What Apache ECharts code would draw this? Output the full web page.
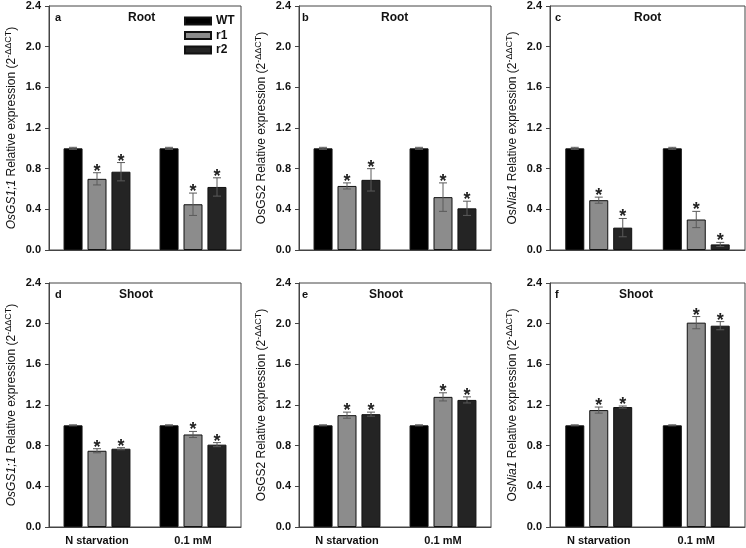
<!DOCTYPE html>
<html>
<head>
<meta charset="utf-8">
<script src="https://cdn.jsdelivr.net/npm/echarts@6/dist/echarts.min.js"></script>
<style>
  html, body { margin: 0; padding: 0; background: #fff; }
  #chart { width: 746px; height: 548px; }
</style>
</head>
<body>
<div id="chart"></div>
<script>
// 处理条件与基因型
const groups = ['N starvation', '0.1 mM']
const genotypes = ['WT', 'r1', 'r2']
const yTicks = [0, 0.4, 0.8, 1.2, 1.6, 2.0, 2.4]

// 每个面板: 均值 [WT, r1, r2] x [N starvation, 0.1 mM]，误差同理
const rootGS11 = [[1.00, 1.00], [0.70, 0.45], [0.77, 0.62]]
const rootGS11Err = [[0.01, 0.01], [0.06, 0.11], [0.09, 0.09]]
const rootGS2 = [[1.00, 1.00], [0.63, 0.52], [0.69, 0.41]]
const rootGS2Err = [[0.01, 0.01], [0.03, 0.14], [0.11, 0.07]]
const rootNia1 = [[1.00, 1.00], [0.49, 0.30], [0.22, 0.055]]
const rootNia1Err = [[0.01, 0.01], [0.03, 0.08], [0.09, 0.02]]
const shootGS11 = [[1.00, 1.00], [0.75, 0.91], [0.77, 0.81]]
const shootGS11Err = [[0.005, 0.005], [0.02, 0.03], [0.01, 0.02]]
const shootGS2 = [[1.00, 1.00], [1.10, 1.28], [1.11, 1.25]]
const shootGS2Err = [[0.005, 0.005], [0.03, 0.04], [0.02, 0.03]]
const shootNia1 = [[1.00, 1.00], [1.15, 2.01], [1.18, 1.98]]
const shootNia1Err = [[0.005, 0.005], [0.03, 0.06], [0.01, 0.04]]

const panels = [
  { letter: 'a', tissue: 'Root', mean: rootGS11, err: rootGS11Err, gene: '{i|OsGS1;1}' },
  { letter: 'b', tissue: 'Root', mean: rootGS2, err: rootGS2Err, gene: '{n|OsGS2}' },
  { letter: 'c', tissue: 'Root', mean: rootNia1, err: rootNia1Err, gene: '{n|Os}{i|Nia1}' },
  { letter: 'd', tissue: 'Shoot', mean: shootGS11, err: shootGS11Err, gene: '{i|OsGS1;1}' },
  { letter: 'e', tissue: 'Shoot', mean: shootGS2, err: shootGS2Err, gene: '{n|OsGS2}' },
  { letter: 'f', tissue: 'Shoot', mean: shootNia1, err: shootNia1Err, gene: '{n|Os}{i|Nia1}' }
]

const FONT = '"Liberation Sans", Arial, sans-serif'
const colors = ['#000000', '#8c8c8c', '#242424']
const gridLeft = [49, 299, 550]
const gridWidth = [192, 192, 195]
const gridTop = [6, 283]
const gridH = 244
const letterX = [55, 302, 555]
const tissueX = [[142, 395, 648], [135, 385, 635]]
const BAR_W = 19
const BAR_STEP = 24

const chart = echarts.init(document.getElementById('chart'))

const grid = []
const xAxis = []
const yAxis = []
const series = []
const graphic = []

panels.forEach((p, i) => {
  const row = Math.floor(i / 3)
  const col = i % 3
  grid.push({
    left: gridLeft[col], top: gridTop[row], width: gridWidth[col], height: gridH,
    show: true, borderColor: '#444', borderWidth: 1, backgroundColor: 'transparent'
  })
  xAxis.push({
    type: 'category', gridIndex: i, data: groups,
    axisLine: { lineStyle: { color: '#444', width: 1 } },
    axisTick: { alignWithLabel: true, length: 4, lineStyle: { color: '#444' } },
    axisLabel: { show: row === 1, margin: 8, color: '#111', fontSize: 11, fontWeight: 'bold', fontFamily: FONT },
    splitLine: { show: false }
  })
  yAxis.push({
    type: 'value', gridIndex: i, min: 0, max: 2.4, interval: 0.4,
    name: p.gene + '{n| Relative expression (2}{s|-ΔΔCT}{n|)}',
    nameLocation: 'middle', nameRotate: 90, nameGap: 29,
    nameTextStyle: {
      rich: {
        n: { fontSize: 12, fontFamily: FONT, color: '#111', lineHeight: 16 },
        i: { fontSize: 12, fontFamily: FONT, color: '#111', fontStyle: 'italic', lineHeight: 16 },
        s: { fontSize: 9, fontFamily: FONT, color: '#111', verticalAlign: 'top', lineHeight: 9 }
      }
    },
    axisLine: { show: true, lineStyle: { color: '#444', width: 1 } },
    axisTick: { show: true, length: 4, lineStyle: { color: '#444' } },
    axisLabel: {
      margin: 8, color: '#111', fontSize: 11, fontWeight: 'bold', fontFamily: FONT,
      formatter: v => yTicks.includes(Math.round(v * 10) / 10) ? v.toFixed(1) : ''
    },
    splitLine: { show: false }
  })

  genotypes.forEach((g, k) => {
    series.push({
      name: g, type: 'bar', xAxisIndex: i, yAxisIndex: i,
      data: p.mean[k], barWidth: BAR_W, barGap: '26%',
      itemStyle: { color: colors[k], borderColor: '#111', borderWidth: 1 },
      z: 2
    })
  })

  // 误差线与显著性星号
  genotypes.forEach((g, k) => {
    const items = p.mean[k].map((m, j) => [j, m, p.err[k][j]])
    series.push({
      type: 'custom', xAxisIndex: i, yAxisIndex: i, z: 5,
      data: items,
      encode: { x: 0, y: 1 },
      renderItem: (params, api) => {
        const j = api.value(0)
        const m = api.value(1)
        const e = api.value(2)
        const top = api.coord([j, m + e])
        const bot = api.coord([j, m - e])
        const cx = top[0] + (k - 1) * BAR_STEP
        const cap = 4
        const st = { stroke: '#5a5a5a', lineWidth: 1 }
        const children = [
          { type: 'line', shape: { x1: cx, y1: top[1], x2: cx, y2: bot[1] }, style: st },
          { type: 'line', shape: { x1: cx - cap, y1: top[1], x2: cx + cap, y2: top[1] }, style: st },
          { type: 'line', shape: { x1: cx - cap, y1: bot[1], x2: cx + cap, y2: bot[1] }, style: st }
        ]
        if (k > 0) {
          children.push({
            type: 'text',
            style: {
              text: '*', x: cx, y: top[1] + 8, align: 'center', verticalAlign: 'bottom',
              fontSize: 18, fontWeight: 'bold', fontFamily: FONT, fill: '#222'
            }
          })
        }
        return { type: 'group', children }
      }
    })
  })

  graphic.push({
    type: 'text', left: letterX[col], top: gridTop[row] + 6,
    style: { text: p.letter, fontSize: 11, fontWeight: 'bold', fontFamily: FONT, fill: '#111' }
  })
  graphic.push({
    type: 'text', left: tissueX[row][col] - (p.tissue === 'Root' ? 14 : 16), top: gridTop[row] + 6,
    style: { text: p.tissue, fontSize: 12, fontWeight: 'bold', fontFamily: FONT, fill: '#111' }
  })
})

const option = {
  animation: false,
  backgroundColor: '#fff',
  grid, xAxis, yAxis, series, graphic,
  legend: {
    data: genotypes, orient: 'vertical', left: 179, top: 10,
    icon: 'rect', itemWidth: 26, itemHeight: 7, itemGap: 2.5,
    textStyle: { fontSize: 12, fontWeight: 'bold', fontFamily: FONT, color: '#111' }
  }
}

chart.setOption(option)
</script>
</body>
</html>
